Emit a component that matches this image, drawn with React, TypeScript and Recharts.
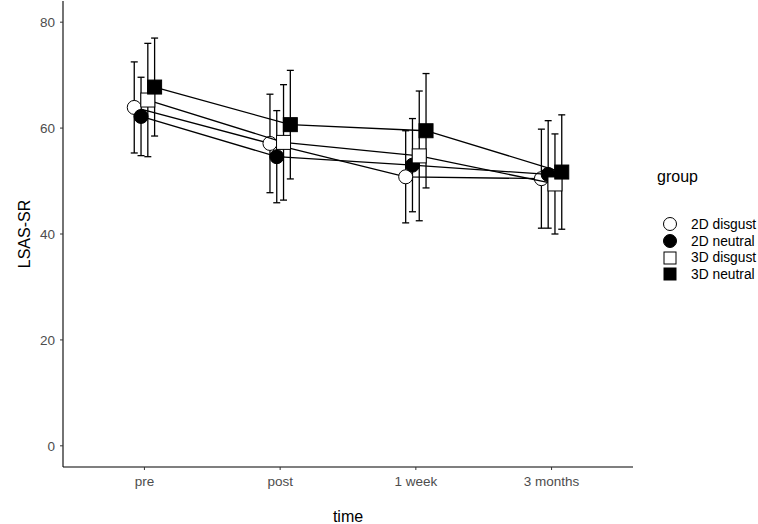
import { ComposedChart, Scatter, XAxis, YAxis, ErrorBar } from "recharts";

const times = ["pre", "post", "1 week", "3 months"];
const groups = ["2D disgust", "2D neutral", "3D disgust", "3D neutral"];

const disgust2D = [63.9, 57.1, 50.8, 50.45];
const disgust2DErr = [8.6, 9.3, 8.7, 9.35];
const neutral2D = [62.2, 54.6, 53.0, 51.25];
const neutral2DErr = [7.4, 8.7, 8.8, 10.15];
const disgust3D = [65.3, 57.3, 54.75, 49.45];
const disgust3DErr = [10.7, 10.9, 12.25, 9.45];
const neutral3D = [67.75, 60.65, 59.5, 51.7];
const neutral3DErr = [9.25, 10.25, 10.8, 10.8];

const yTicks = [0, 20, 40, 60, 80];

const means = [disgust2D, neutral2D, disgust3D, neutral3D];
const errs = [disgust2DErr, neutral2DErr, disgust3DErr, neutral3DErr];
const dodge = [-0.075, -0.025, 0.025, 0.075];
const kinds = ["openCircle", "circle", "openSquare", "square"];

const series = groups.map((g, gi) =>
  times.map((t, i) => ({ x: i + 1 + dodge[gi], y: means[gi][i], err: errs[gi][i], time: t }))
);

const FONT = "'Liberation Sans', Arial, sans-serif";

function Mark({ kind, cx, cy, r = 7 }: { kind: string; cx: number; cy: number; r?: number }) {
  const fill = kind === "circle" || kind === "square" ? "#000" : "#fff";
  if (kind.toLowerCase().includes("circle"))
    return <circle cx={cx} cy={cy} r={r} fill={fill} stroke="#000" strokeWidth={1} />;
  return <rect x={cx - r} y={cy - r} width={r * 2} height={r * 2} fill={fill} stroke="#000" strokeWidth={1} />;
}

const shapeFor = (kind: string) => (props: any) => <Mark kind={kind} cx={props.cx} cy={props.cy} />;

function LegendBox() {
  return (
    <div style={{ position: "absolute", left: 650, top: 168, width: 108, fontFamily: FONT, color: "#000" }}>
      <div style={{ fontSize: 16, height: 18, lineHeight: "18px", marginLeft: 7 }}>group</div>
      <div style={{ height: 30 }} />
      {groups.map((g, i) => (
        <div key={g} style={{ display: "flex", alignItems: "center", height: 16.7, whiteSpace: "nowrap" }}>
          <svg width={26} height={16} style={{ marginLeft: 8 }}>
            <Mark kind={kinds[i]} cx={12} cy={8} r={i < 2 ? 6.5 : 6} />
          </svg>
          <span style={{ fontSize: 13.8, marginLeft: 7 }}>{g}</span>
        </div>
      ))}
    </div>
  );
}

export default function App() {
  return (
    <div style={{ position: "absolute", left: 0, top: 0, width: 758, height: 524, background: "#fff" }}>
      <ComposedChart width={758} height={524} margin={{ top: 1, right: 125, bottom: 0, left: 0 }}>
        <XAxis
          type="number"
          dataKey="x"
          domain={[0.4, 4.6]}
          ticks={[1, 2, 3, 4]}
          allowDataOverflow
          tickFormatter={(v: number) => times[Math.round(v) - 1]}
          axisLine={{ stroke: "#000", strokeWidth: 1.1 }}
          tickLine={{ stroke: "#333" }}
          tickSize={3}
          tickMargin={6}
          height={57}
          tick={{ fill: "#4D4D4D", fontSize: 13.5, fontFamily: FONT }}
          label={({ viewBox }: any) => (
            <text x={viewBox.x + viewBox.width / 2} y={522} textAnchor="middle" fontSize={16} fontFamily={FONT} fill="#000">
              time
            </text>
          )}
        />
        <YAxis
          type="number"
          domain={[-4, 84]}
          ticks={yTicks}
          allowDataOverflow
          width={63}
          axisLine={{ stroke: "#000", strokeWidth: 1.1 }}
          tickLine={{ stroke: "#333" }}
          tickSize={3}
          tickMargin={5}
          tick={{ fill: "#4D4D4D", fontSize: 13.5, fontFamily: FONT }}
          label={({ viewBox }: any) => (
            <text
              x={24}
              y={viewBox.y + viewBox.height / 2}
              transform={`rotate(-90 24 ${viewBox.y + viewBox.height / 2})`}
              textAnchor="middle"
              dominantBaseline="central"
              fontSize={16}
              fontFamily={FONT}
              fill="#000"
            >
              LSAS-SR
            </text>
          )}
        />
        {series.map((data, gi) => (
          <Scatter
            key={groups[gi]}
            name={groups[gi]}
            data={data}
            dataKey="y"
            line={{ stroke: "#000", strokeWidth: 1.3 }}
            shape={shapeFor(kinds[gi])}
            isAnimationActive={false}
          >
            <ErrorBar dataKey="err" direction="y" width={3.5} stroke="#000" strokeWidth={1.3} isAnimationActive={false} />
          </Scatter>
        ))}
      </ComposedChart>
      <LegendBox />
    </div>
  );
}
